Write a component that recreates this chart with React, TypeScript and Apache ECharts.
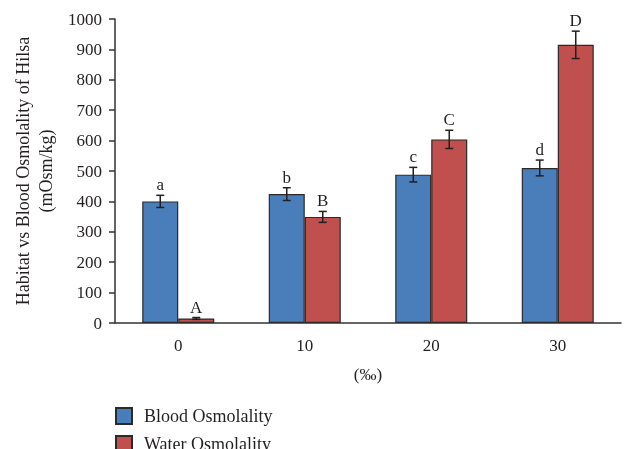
import React, { useEffect, useRef } from "react";
import * as echarts from "echarts";

const categories = ["0", "10", "20", "30"];
const bloodValues = [400, 424, 488, 510];
const bloodErrors = [20, 21, 24, 26];
const waterValues = [15, 349, 604, 915];
const waterErrors = [3, 18, 30, 45];
const bloodLetters = ["a", "b", "c", "d"];
const waterLetters = ["A", "B", "C", "D"];
const yTicks = { min: 0, max: 1000, interval: 100 };
const seriesNames = ["Blood Osmolality", "Water Osmolality"];

const FONT = "'Liberation Serif', 'DejaVu Serif', serif";
const INK = "#231f20";
const BAR_W = 36;

export default function App() {
  const ref = useRef<HTMLDivElement>(null);
  useEffect(() => {
    if (!ref.current) return;
    const chart = echarts.init(ref.current, null, { renderer: "svg" });

    const errData: any[] = [];
    const errLetters: string[] = [];
    const errSide: number[] = [];
    categories.forEach((_, i) => {
      errData.push([i, bloodValues[i], bloodErrors[i]]);
      errLetters.push(bloodLetters[i]);
      errSide.push(-1);
      errData.push([i, waterValues[i], waterErrors[i]]);
      errLetters.push(waterLetters[i]);
      errSide.push(1);
    });

    const renderItem = (params: any, api: any) => {
      const idx = params.dataIndex;
      const c = api.value(0);
      const v = api.value(1);
      const e = api.value(2);
      const top = api.coord([c, v + e]);
      const bot = api.coord([c, v - e]);
      const x = top[0] + errSide[idx] * (BAR_W / 2);
      const ls = { stroke: INK, lineWidth: 1.5 };
      return {
        type: "group",
        children: [
          { type: "line", shape: { x1: x, y1: top[1], x2: x, y2: bot[1] }, style: ls },
          { type: "line", shape: { x1: x - 4, y1: top[1], x2: x + 4, y2: top[1] }, style: ls },
          { type: "line", shape: { x1: x - 4, y1: bot[1], x2: x + 4, y2: bot[1] }, style: ls },
          {
            type: "text",
            x: x,
            y: top[1] - 2,
            style: {
              text: errLetters[idx],
              fill: INK,
              font: `17px ${FONT}`,
              align: "center",
              verticalAlign: "bottom",
            },
          },
        ],
      };
    };

    const legendText = { fontFamily: FONT, fontSize: 18, color: INK, lineHeight: 16, padding: [0, 0, 0, 7] };

    chart.setOption({
      animation: false,
      textStyle: { fontFamily: FONT, color: INK },
      grid: { left: 115, right: 4, top: 19, bottom: 126, containLabel: false },
      legend: [
        {
          left: 115,
          top: 407,
          padding: 0,
          itemWidth: 16,
          itemHeight: 16,
          icon: "rect",
          data: [seriesNames[0]],
          textStyle: legendText,
        },
        {
          left: 115,
          top: 435,
          padding: 0,
          itemWidth: 16,
          itemHeight: 16,
          icon: "rect",
          data: [seriesNames[1]],
          textStyle: legendText,
        },
      ],
      xAxis: {
        type: "category",
        data: categories,
        name: "(‰)",
        nameLocation: "middle",
        nameGap: 43,
        nameTextStyle: { fontFamily: FONT, fontSize: 17, color: INK },
        axisLine: { lineStyle: { color: "#333", width: 1.5 } },
        axisTick: { length: 6, lineStyle: { color: "#333", width: 1.5 } },
        axisLabel: { fontFamily: FONT, fontSize: 17, color: INK, margin: 14 },
      },
      yAxis: {
        type: "value",
        min: yTicks.min,
        max: yTicks.max,
        interval: yTicks.interval,
        name: "Habitat vs Blood Osmolality of Hilsa\n(mOsm/kg)",
        nameLocation: "middle",
        nameRotate: 90,
        nameGap: 57,
        nameTextStyle: { fontFamily: FONT, fontSize: 18, color: INK, lineHeight: 23, align: "center" },
        axisLine: { show: true, lineStyle: { color: "#333", width: 1.5 } },
        axisTick: { show: true, length: 6, lineStyle: { color: "#333", width: 1.5 } },
        axisLabel: { fontFamily: FONT, fontSize: 17, color: INK, margin: 13, formatter: (v: number) => String(v) },
        splitLine: { show: false },
      },
      series: [
        {
          name: seriesNames[0],
          type: "bar",
          data: bloodValues,
          barWidth: BAR_W,
          barGap: "0%",
          itemStyle: { color: "#4a7ebb", borderColor: "#2a2a2a", borderWidth: 1.2 },
        },
        {
          name: seriesNames[1],
          type: "bar",
          data: waterValues,
          barWidth: BAR_W,
          barGap: "0%",
          itemStyle: { color: "#c0504d", borderColor: "#2a2a2a", borderWidth: 1.2 },
        },
        {
          type: "custom",
          renderItem,
          data: errData,
          z: 10,
          encode: { x: 0, y: 1 },
        },
      ],
    });
    return () => chart.dispose();
  }, []);
  return (
    <div
      ref={ref}
      style={{ position: "fixed", left: 0, top: 0, width: 625, height: 449 }}
    />
  );
}
